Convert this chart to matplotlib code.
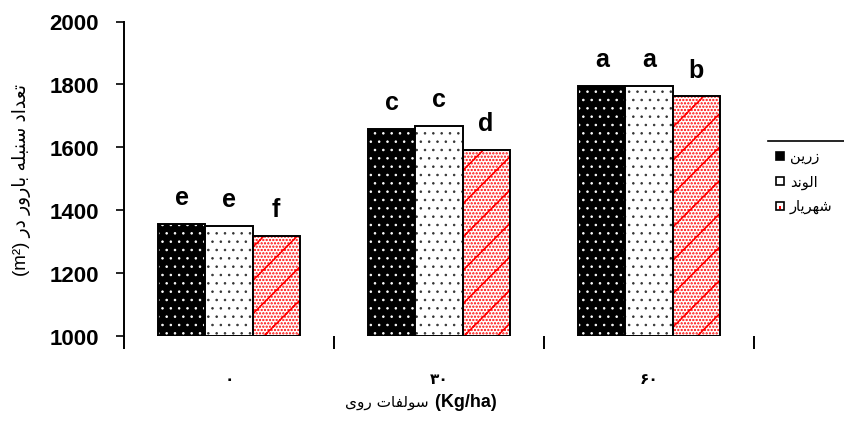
import numpy as np
import matplotlib
matplotlib.use('Agg')
import matplotlib.pyplot as plt
from matplotlib.patches import Rectangle
from matplotlib.lines import Line2D

# ── data ──────────────────────────────────────────────────────────────────────
doses     = ['۰', '۳۰', '۶۰']                 # zinc sulfate, Kg/ha
cultivars = ['زرین', 'الوند', 'شهریار']
zarrin    = [1356, 1658, 1794]
alvand    = [1349, 1668, 1794]
shahriar  = [1317, 1591, 1762]
let_zarrin   = ['e', 'c', 'a']
let_alvand   = ['e', 'c', 'a']
let_shahriar = ['f', 'd', 'b']
yticks = [1000, 1200, 1400, 1600, 1800, 2000]

# ── minimal Arabic/Persian shaping (no reshaper lib available) ───────────────
FORMS = {  # isolated, final, initial, medial
    'ا': ('\uFE8D', '\uFE8E', None, None),
    'ب': ('\uFE8F', '\uFE90', '\uFE91', '\uFE92'),
    'ت': ('\uFE95', '\uFE96', '\uFE97', '\uFE98'),
    'د': ('\uFEA9', '\uFEAA', None, None),
    'ر': ('\uFEAD', '\uFEAE', None, None),
    'ز': ('\uFEAF', '\uFEB0', None, None),
    'س': ('\uFEB1', '\uFEB2', '\uFEB3', '\uFEB4'),
    'ش': ('\uFEB5', '\uFEB6', '\uFEB7', '\uFEB8'),
    'ع': ('\uFEC9', '\uFECA', '\uFECB', '\uFECC'),
    'ف': ('\uFED1', '\uFED2', '\uFED3', '\uFED4'),
    'ل': ('\uFEDD', '\uFEDE', '\uFEDF', '\uFEE0'),
    'ن': ('\uFEE5', '\uFEE6', '\uFEE7', '\uFEE8'),
    'ه': ('\uFEE9', '\uFEEA', '\uFEEB', '\uFEEC'),
    'و': ('\uFEED', '\uFEEE', None, None),
    'ی': ('\uFEEF', '\uFEF0', '\uFEF3', '\uFEF4'),
}

def rtl(s):
    out = []
    for i, ch in enumerate(s):
        if ch not in FORMS:
            out.append(ch)
            continue
        prev = s[i - 1] if i > 0 else ''
        nxt  = s[i + 1] if i + 1 < len(s) else ''
        jp = prev in FORMS and FORMS[prev][2] is not None
        jn = nxt in FORMS and FORMS[ch][2] is not None
        f = FORMS[ch]
        if jp and jn:
            out.append(f[3])
        elif jp:
            out.append(f[1])
        elif jn:
            out.append(f[2])
        else:
            out.append(f[0])
    return ''.join(out[::-1])

FAM = ['Liberation Sans', 'DejaVu Sans']
plt.rcParams['font.family'] = FAM

W, H = 844, 427
fig = plt.figure(figsize=(W / 100, H / 100), dpi=100)
ax = fig.add_axes([124 / W, 1 - 337 / H, 630 / W, 314.5 / H])

series = [
    (zarrin,   let_zarrin,   'black', 'white',   '..',     0.6),
    (alvand,   let_alvand,   'white', '#333333', '..',     0.6),
    (shahriar, let_shahriar, 'white', 'red',     '...../', 1.1),
]
bw = 0.224
x0 = np.arange(len(doses))
for k, (vals, lets, face, hcol, hatch, hlw) in enumerate(series):
    x = x0 + (k - 1) * bw
    h = np.array(vals) - 1000
    plt.rcParams['hatch.linewidth'] = hlw
    ax.bar(x, h, bw, bottom=1000, color=face, edgecolor=hcol, hatch=hatch, lw=0)
    ax.bar(x, h, bw, bottom=1000, fill=False, edgecolor='black', lw=1.4)
    for xi, v, t in zip(x, vals, lets):
        ax.text(xi, v + 63, t, ha='center', va='baseline', fontsize=18,
                fontweight='bold')

ax.set_xlim(-0.5, 2.5)
ax.set_ylim(1000, 2000)
ax.set_yticks(yticks)
ax.set_yticklabels([str(t) for t in yticks], fontsize=16, fontweight='bold')
ax.tick_params(axis='y', direction='out', length=6, width=1.2, pad=12)
ax.set_xticks([-0.5, 0.5, 1.5, 2.5])
ax.set_xticklabels([])
ax.tick_params(axis='x', direction='out', length=9, width=1.4)
for s in ['top', 'right', 'bottom']:
    ax.spines[s].set_visible(False)
ax.spines['left'].set_linewidth(1.4)

for xi, d in zip(x0, doses):
    ax.text(xi, -0.135, d, transform=ax.get_xaxis_transform(), ha='center',
            va='center', fontsize=11, fontweight='bold', family=['DejaVu Sans'])

# x label: Persian part regular, unit bold
ax.text(0.484, -0.207, rtl('سولفات روی'), transform=ax.transAxes,
        ha='right', va='center', fontsize=11, family=['DejaVu Sans'])
ax.text(0.486, -0.207, ' (Kg/ha)', transform=ax.transAxes,
        ha='left', va='center', fontsize=13, fontweight='bold')
ax.text(-0.162, 0.5, '(m²) ' + rtl('تعداد سنبله بارور در'), transform=ax.transAxes,
        rotation=90, ha='center', va='center', fontsize=13.5)

# ── legend (manual, right side) ───────────────────────────────────────────────
fig.add_artist(Line2D([768 / W, 1.0], [1 - 142 / H] * 2, color='black', lw=1.2))
mark_face = ['black', 'white', 'white']
for i, (name, mf) in enumerate(zip(cultivars, mark_face)):
    yc = 157 + 25 * i
    fig.add_artist(Rectangle((776 / W, 1 - (yc + 4) / H), 8 / W, 8 / H,
                             facecolor=mf, edgecolor='black', lw=1.2))
    if i == 2:
        fig.add_artist(Rectangle((779 / W, 1 - (yc + 3) / H), 2 / W, 3 / H,
                                 facecolor='red', edgecolor='none'))
    fig.text(790 / W, 1 - yc / H, rtl(name), ha='left', va='center', fontsize=10.5,
             family=['DejaVu Sans'])

fig.savefig('out.png', dpi=100)
